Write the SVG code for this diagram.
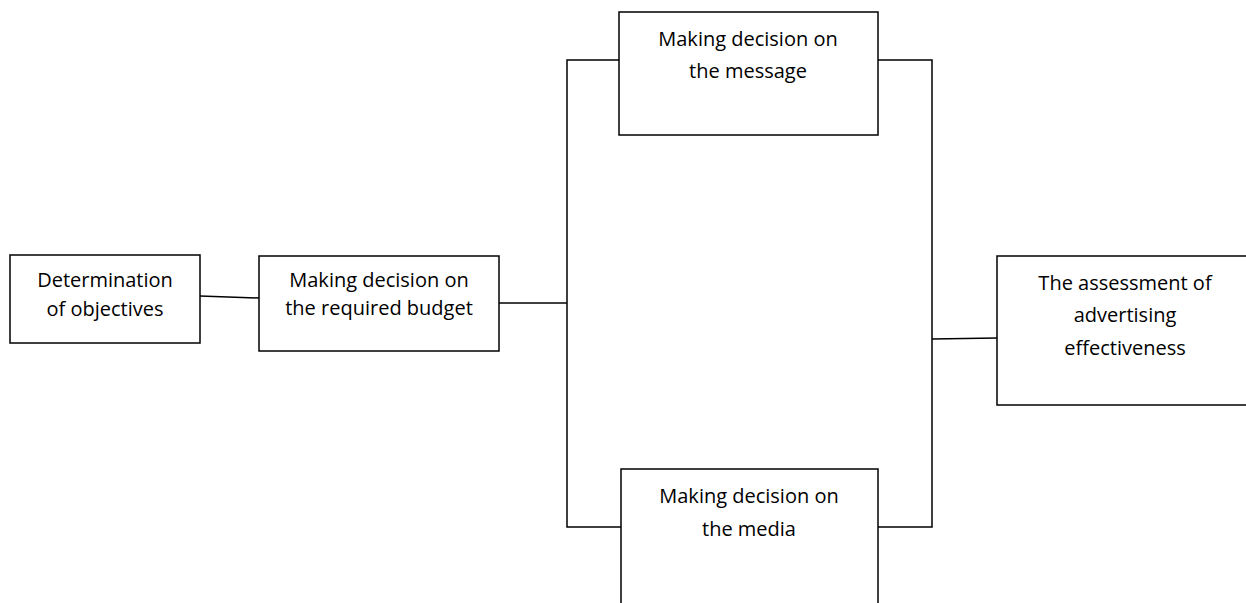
<svg xmlns="http://www.w3.org/2000/svg" width="1246" height="603" viewBox="0 0 1246 603">
<style>
.box{fill:#fff;stroke:#000;stroke-width:1.5}
.con{fill:none;stroke:#000;stroke-width:1.5}
text{font-family:"Open Sans","Liberation Sans",sans-serif;font-size:20px;fill:#000;text-anchor:middle}
</style>
<rect width="1246" height="603" fill="#fff"/>
<g id="connectors">
<path class="con" d="M200,296 L259,298"/>
<path class="con" d="M499,303 L567,303"/>
<path class="con" d="M619,60 L567,60 L567,527 L621,527"/>
<path class="con" d="M878,60 L932,60 L932,527 L878,527"/>
<path class="con" d="M932,339 L997,338"/>
</g>
<g id="n1">
<rect class="box" x="10" y="255" width="190" height="88"/>
<text x="105" y="287">Determination</text>
<text x="105" y="316">of objectives</text>
</g>
<g id="n2">
<rect class="box" x="259" y="256" width="240" height="95"/>
<text x="379" y="287">Making decision on</text>
<text x="379" y="315">the required budget</text>
</g>
<g id="n3">
<rect class="box" x="619" y="12" width="259" height="123"/>
<text x="748" y="46">Making decision on</text>
<text x="748" y="78">the message</text>
</g>
<g id="n4">
<rect class="box" x="621" y="469" width="257" height="140"/>
<text x="749" y="503">Making decision on</text>
<text x="749" y="536">the media</text>
</g>
<g id="n5">
<rect class="box" x="997" y="256" width="260" height="149"/>
<text x="1125" y="290">The assessment of</text>
<text x="1125" y="322">advertising</text>
<text x="1125" y="355">effectiveness</text>
</g>
</svg>
